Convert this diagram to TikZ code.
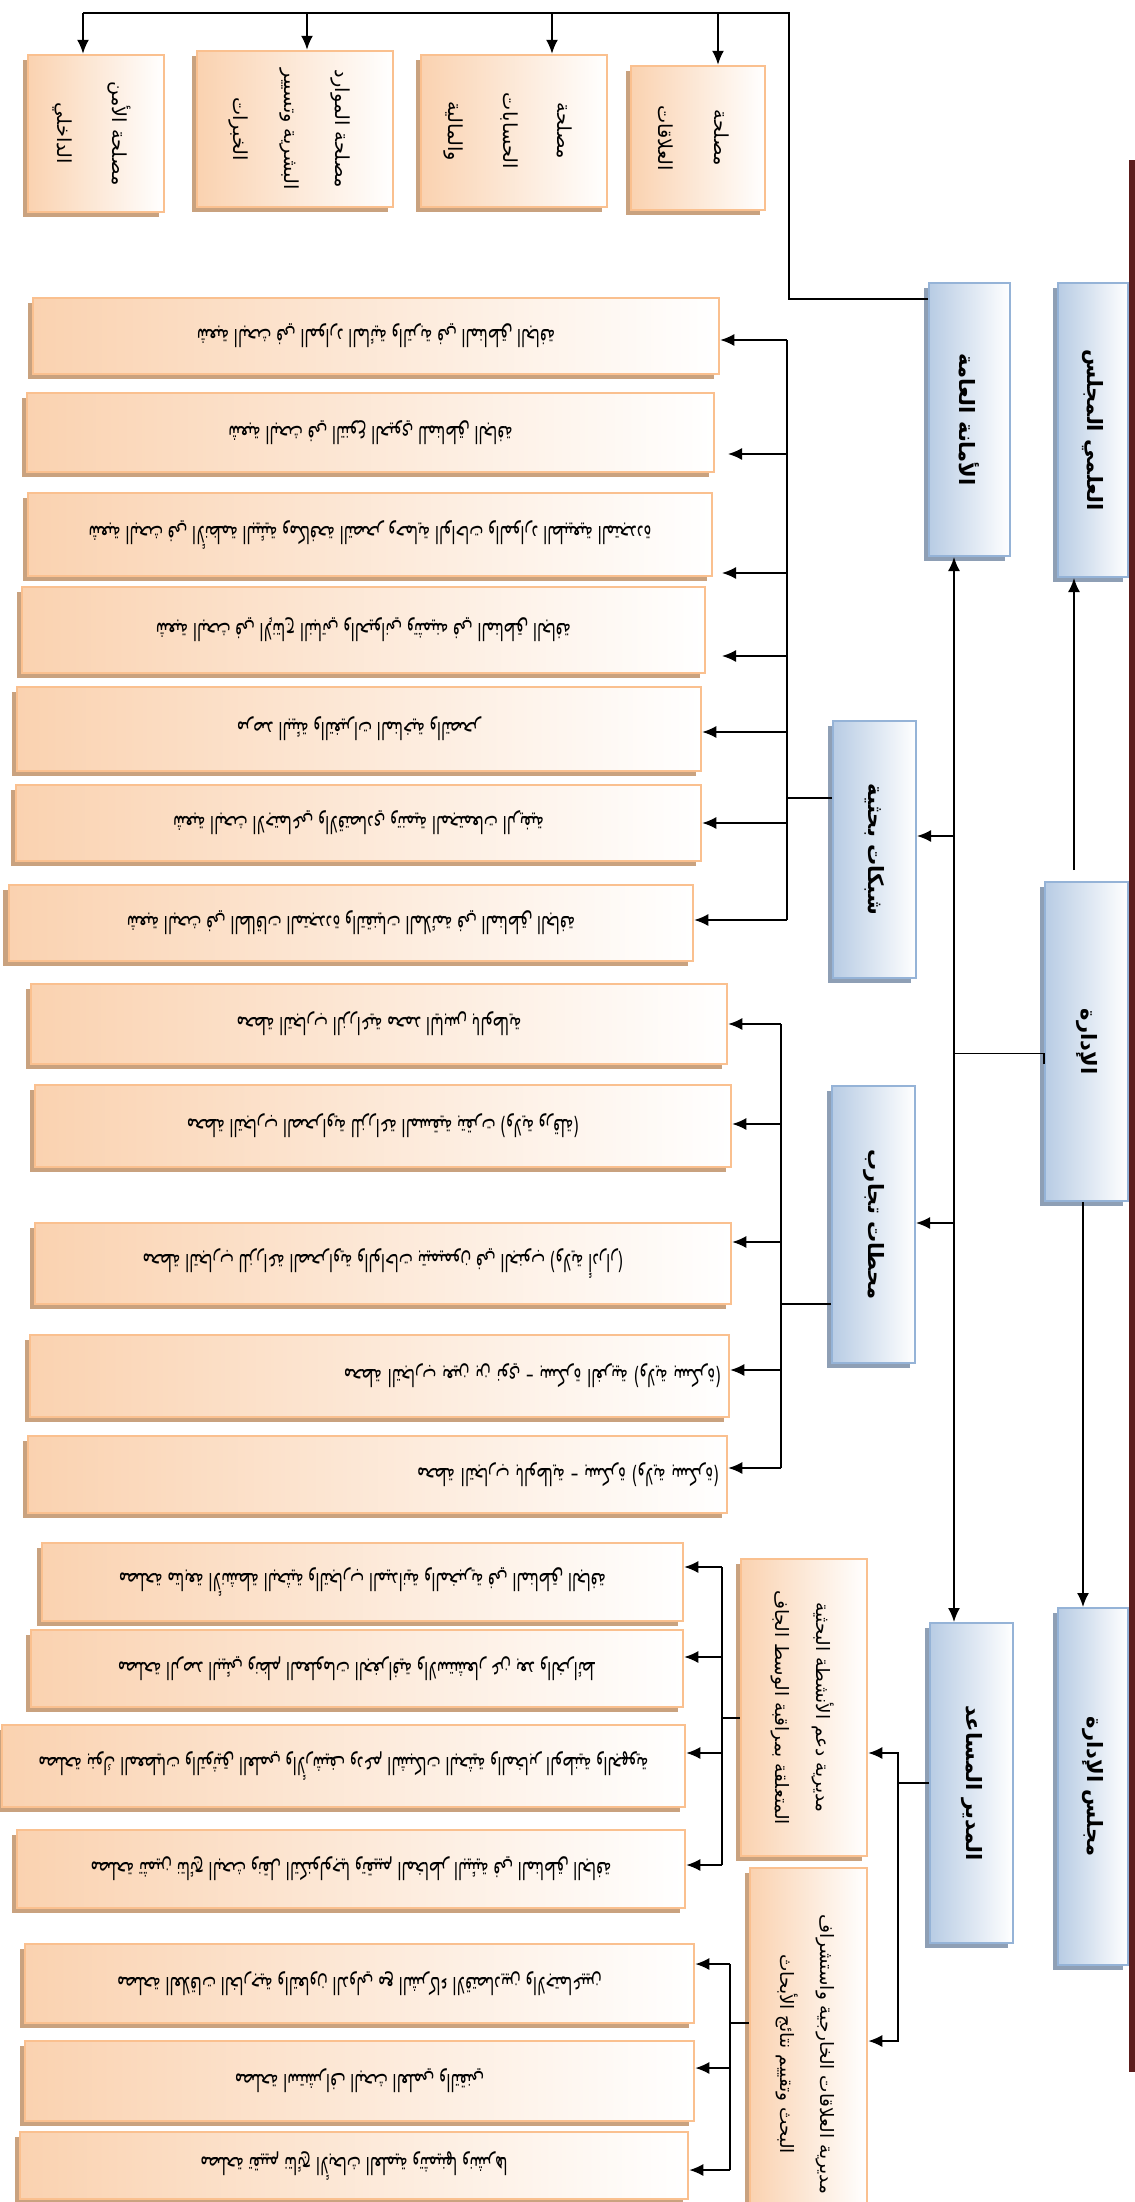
\documentclass[tikz,border=0pt]{standalone}
\usepackage{fontspec}
\usetikzlibrary{arrows.meta,shadows,calc}
\TeXXeTstate=1
\newfontfamily\arfont[Script=Arabic]{DejaVu Sans}

\definecolor{bluedark}{HTML}{B8CCE4}
\definecolor{blueedge}{HTML}{95B3D7}
\definecolor{blueshade}{HTML}{8E9FB5}
\definecolor{peach}{HTML}{FAD2B0}
\definecolor{peachedge}{HTML}{FAC08F}
\definecolor{peachshade}{HTML}{C9A27F}
\definecolor{rulemaroon}{HTML}{5C1D1D}

% right-to-left run
\newcommand\arR[1]{\beginR #1\endR}
% unit label turned upside down, in a tall narrow cut
\newcommand\flipar[1]{\rotatebox{180}{\scalebox{1}[1.6]{\arfont\fontsize{8.5}{10}\selectfont\beginR #1\endR}}}
% bold label running down the box
\newcommand\sidebold[1]{\rotatebox{-90}{\arfont\bfseries\fontsize{12}{14}\selectfont #1}}
% several lines running down the box
\newcommand\sidelines[3]{\rotatebox{-90}{\arfont\fontsize{#1}{#2}\selectfont\begin{tabular}{@{}c@{}}#3\end{tabular}}}
% box from its corners: style, name, x1, y1, x2, y2, text
\newcommand\orgbox[7]{\node[#1, minimum width={(#5-#3)*0.2mm}, minimum height={(#6-#4)*0.2mm}] (#2) at ({(#3+#5)/2},{(#4+#6)/2}) {#7};}

\tikzset{
  bluebox/.style={draw=blueedge, line width=0.4mm, left color=bluedark, right color=white,
    inner sep=0pt, general shadow={shadow xshift=-1.1mm, shadow yshift=-0.9mm, fill=blueshade}},
  peachbox/.style={draw=peachedge, line width=0.5mm, left color=peach, right color=white,
    inner sep=0pt, general shadow={shadow xshift=-1.1mm, shadow yshift=-0.9mm, fill=peachshade}},
  rightset/.style={text width=136.6mm, align=right},
  link/.style={draw=black, line width=1pt},
  arrowed/.style={link, -{Latex[length=2.8mm,width=2.4mm]}},
  twoway/.style={link, {Latex[length=2.8mm,width=2.4mm]}-{Latex[length=2.8mm,width=2.4mm]}},
}

\begin{document}
\begin{tikzpicture}[x=0.2mm, y=-0.2mm]
\clip (0,0) rectangle (1135,2202);
\fill[white] (0,0) rectangle (1135,2202);

% vertical rule on the right
\draw[rulemaroon, line width=1.2mm] (1132,160) -- (1132,2072);

% ---- top level
\orgbox{bluebox}{ilmi}{1058}{283}{1128}{577}{\sidebold{\arR{العلمي المجلس}}}
\orgbox{bluebox}{amana}{929}{283}{1010}{556}{\sidebold{\arR{الأمانة العامة}}}
\orgbox{bluebox}{idara}{1045}{882}{1128}{1201}{\sidebold{\arR{الإدارة}}}
\orgbox{bluebox}{shabakat}{833}{721}{916}{978}{\sidebold{\arR{شبكات بحثية}}}
\orgbox{bluebox}{mahattat}{832}{1086}{915}{1363}{\sidebold{\arR{محطات تجارب}}}
\orgbox{bluebox}{majlis}{1058}{1608}{1128}{1965}{\sidebold{\arR{مجلس الإدارة}}}
\orgbox{bluebox}{mudir}{930}{1623}{1013}{1943}{\sidebold{\arR{المدير المساعد}}}

% ---- directorates
\orgbox{peachbox}{daam}{741}{1559}{867}{1856}{\sidelines{10.5}{23}{\arR{مديرية دعم الأنشطة البحثية}\\\arR{المتعلقة بمراقبة الوسط الجاف}}}
\orgbox{peachbox}{kharij}{750}{1868}{867}{2240}{\sidelines{10.5}{23}{\arR{مديرية العلاقات الخارجية واستشراف}\\\arR{البحث وتقييم نتائج الأبحاث}}}

% ---- services of the general secretariat
\orgbox{peachbox}{amn}{28}{55}{164}{212}{\sidelines{11}{31}{\arR{مصلحة الأمن}\\\arR{الداخلي}}}
\orgbox{peachbox}{mawarid}{197}{51}{393}{207}{\sidelines{11}{29}{\arR{مصلحة الموارد}\\\arR{البشرية وتسيير}\\\arR{الخبرات}}}
\orgbox{peachbox}{hisabat}{421}{55}{607}{207}{\sidelines{11}{31}{\arR{مصلحة}\\\arR{الحسابات}\\\arR{والمالية}}}
\orgbox{peachbox}{alaqat}{631}{66}{765}{210}{\sidelines{11}{32}{\arR{مصلحة}\\\arR{العلاقات}}}

% ---- research networks
\orgbox{peachbox}{A1}{33}{298}{719}{374}{\flipar{شعبة البحث في الموارد المائية والتربة في المناطق الجافة}}
\orgbox{peachbox}{A2}{27}{393}{714}{472}{\flipar{شعبة البحث في التنوع الحيوي للمناطق الجافة}}
\orgbox{peachbox}{A3}{28}{493}{712}{576}{\flipar{شعبة البحث في الأنظمة البيئية ومكافحة التصحر وحماية الواحات والموارد الطبيعية المتجددة}}
\orgbox{peachbox}{A4}{22}{587}{705}{673}{\flipar{شعبة البحث في الإنتاج النباتي والحيواني وتثمينه في المناطق الجافة}}
\orgbox{peachbox}{A5}{17}{687}{701}{771}{\flipar{مرصد البيئة والتغيرات المناخية والتصحر}}
\orgbox{peachbox}{A6}{16}{785}{701}{861}{\flipar{شعبة البحث الاجتماعي والاقتصادي وتنمية المجتمعات الريفية}}
\orgbox{peachbox}{A7}{9}{885}{693}{961}{\flipar{شعبة البحث في الطاقات المتجددة والتقنيات الملائمة في المناطق الجافة}}

% ---- experimental stations
\orgbox{peachbox}{B1}{31}{984}{727}{1064}{\flipar{محطة التجارب الزراعية محمد اليابس بالوطاية}}
\orgbox{peachbox}{B2}{35}{1085}{731}{1167}{\flipar{محطة التجارب الصحراوية للزراعة المسقية بتقرت (ولاية ورقلة)}}
\orgbox{peachbox}{B3}{35}{1223}{731}{1304}{\flipar{محطة التجارب للزراعة الصحراوية والواحات بتيميمون في الجنوب (ولاية أدرار)}}
\orgbox{peachbox, rightset}{B4}{30}{1335}{729}{1417}{\flipar{محطة التجارب بعين بن نوي – بسكرة الغربية (ولاية بسكرة)}}
\orgbox{peachbox, rightset}{B5}{28}{1436}{727}{1513}{\flipar{محطة التجارب بالوطاية – بسكرة (ولاية بسكرة)}}

% ---- services of the support directorate
\orgbox{peachbox}{C1}{42}{1543}{683}{1621}{\flipar{مصلحة متابعة الأنشطة البحثية والتجارب الميدانية والمخبرية في المناطق الجافة}}
\orgbox{peachbox}{C2}{31}{1630}{683}{1707}{\flipar{مصلحة الرصد البيئي ونظم المعلومات الجغرافية والاستشعار عن بعد والخرائط}}
\orgbox{peachbox}{C3}{2}{1725}{685}{1807}{\flipar{مصلحة بنوك المعطيات والتوثيق العلمي والأرشيف ودعم الشبكات البحثية والمخابر الوطنية والجهوية}}
\orgbox{peachbox}{C4}{17}{1830}{685}{1908}{\flipar{مصلحة تثمين نتائج البحث ونقل التكنولوجيا وتقييم المخاطر البيئية في المناطق الجافة}}

% ---- services of the external relations directorate
\orgbox{peachbox}{D1}{25}{1944}{694}{2023}{\flipar{مصلحة العلاقات الخارجية والتعاون الدولي مع الشركاء الاقتصاديين والاجتماعيين}}
\orgbox{peachbox}{D2}{25}{2041}{694}{2121}{\flipar{مصلحة استشراف البحث العلمي والتقني}}
\orgbox{peachbox}{D3}{20}{2132}{688}{2199}{\flipar{مصلحة تقييم نتائج الأبحاث العلمية وتثمينها ونشرها}}

% ---- connectors: general secretariat to its services
\coordinate (topy) at (0,13);
\coordinate (topx) at (789,0);
\coordinate (gy) at (0,299);
\draw[link] (amana.west |- gy) -| (topx |- topy) -- (83,13);
\foreach \n/\x in {amn/83, mawarid/307, hisabat/552, alaqat/718}{
  \coordinate (cx) at (\x,0);
  \draw[arrowed] (cx |- topy) -- (cx |- \n.north);
}

% main trunk
\coordinate (trM) at (954,0);
\draw[twoway] (trM |- amana.south) -- (trM |- mudir.north);
\coordinate (ij) at ($(idara.west)+(0,12)$);
\draw[link] ($(idara.west)+(0,22)$) -- (ij) -- (ij -| trM);
\coordinate (sy) at (0,836);
\draw[arrowed] (trM |- sy) -- (shabakat.east |- sy);
\coordinate (my) at (0,1223);
\draw[arrowed] (trM |- my) -- (mahattat.east |- my);

% councils
\coordinate (xv1) at (1074,0);
\draw[arrowed, shorten <=2.2mm] (xv1 |- idara.north) -- (xv1 |- ilmi.south);
\coordinate (xv2) at (1083,0);
\draw[arrowed] (xv2 |- idara.south) -- (xv2 |- majlis.north);

% assistant director
\coordinate (trS) at (898,0);
\coordinate (dy1) at (0,1753);
\coordinate (dy2) at (0,2041);
\draw[link] (mudir.west) -- (trS |- mudir.west);
\draw[arrowed] (trS |- mudir.west) |- (daam.east |- dy1);
\draw[arrowed] (trS |- mudir.west) |- (kharij.east |- dy2);

% research networks
\coordinate (trA) at (787,0);
\coordinate (sA) at (0,798);
\draw[link] (shabakat.west |- sA) -- (trA |- sA);
\draw[link] (787,340) -- (787,920);
\foreach \n/\y in {A1/340, A5/732, A6/823, A7/920}{
  \coordinate (cy) at (0,\y);
  \draw[arrowed] (trA |- cy) -- (\n.east |- cy);
}
\coordinate (tipA2) at (728,454);
\coordinate (tipA3) at (722,573);
\coordinate (tipA4) at (722,656);
\foreach \t in {tipA2, tipA3, tipA4}{
  \draw[arrowed] (trA |- \t) -- (\t);
}

% stations
\coordinate (trB) at (781,0);
\coordinate (sB) at (0,1304);
\draw[link] (mahattat.west |- sB) -- (trB |- sB);
\draw[link] (781,1024) -- (781,1468);
\foreach \n/\y in {B1/1024, B2/1124, B3/1242, B4/1370, B5/1468}{
  \coordinate (cy) at (0,\y);
  \draw[arrowed] (trB |- cy) -- (\n.east |- cy);
}

% support directorate services
\coordinate (trC) at (722,0);
\coordinate (sC) at (0,1718);
\draw[link] (daam.west |- sC) -- (trC |- sC);
\draw[link] (722,1567) -- (722,1865);
\foreach \n/\y in {C1/1567, C2/1657, C3/1753, C4/1865}{
  \coordinate (cy) at (0,\y);
  \draw[arrowed] (trC |- cy) -- (\n.east |- cy);
}

% external relations services
\coordinate (trD) at (730,0);
\coordinate (sD) at (0,2023);
\draw[link] (kharij.west |- sD) -- (trD |- sD);
\draw[link] (730,1964) -- (730,2170);
\foreach \n/\y in {D1/1964, D2/2068, D3/2170}{
  \coordinate (cy) at (0,\y);
  \draw[arrowed] (trD |- cy) -- (\n.east |- cy);
}
\end{tikzpicture}
\end{document}
